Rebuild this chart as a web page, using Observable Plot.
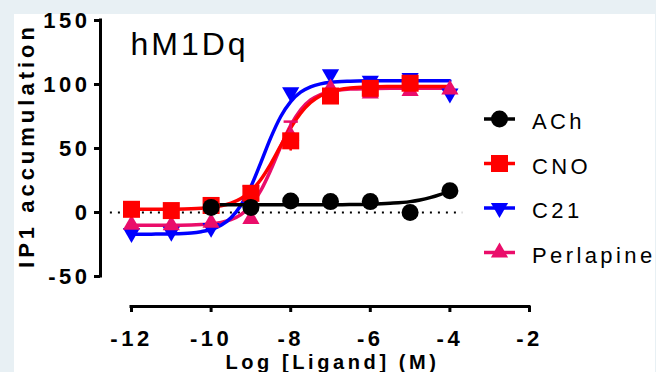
<!DOCTYPE html>
<html><head><meta charset="utf-8">
<script src="https://cdn.jsdelivr.net/npm/d3@7"></script>
<script src="https://cdn.jsdelivr.net/npm/@observablehq/plot@0.6"></script>
<style>
html,body{margin:0;padding:0;background:#e8f0f4;width:656px;height:372px;overflow:hidden;}
#panel{position:absolute;left:14px;top:14px;width:641px;height:358px;background:#fff;}
#chart{position:absolute;left:0;top:0;}
#chart svg{font-family:"Liberation Sans",Arial,sans-serif;}
</style></head><body><div id="panel"></div><div id="chart"></div>
<script>
// ---- data ----
const chartTitle = "hM1Dq";
const yTitle = "IP1 accumulation";
const xTitle = "Log [Ligand] (M)";
const ligands = ["ACh", "CNO", "C21", "Perlapine"];
const colors = ["#000000", "#ff0000", "#0000ff", "#ea0d6a"];

const logConc = [-12, -11, -10, -9, -8, -7, -6, -5, -4];
const achValues = [null, null, 4, 4, 9, 8.5, 8.5, 0, 17];
const cnoValues = [2.5, 1.5, 5.5, 15, 56, 91, 97, 101, null];
const c21Values = [-16, -15, -12, 17, 94, 108, 103, 105, 93];
const perlapineValues = [-9.5, -10, -8, -5, 60, 97, 93, 95, 96];
const perlapineErr = [0, 0, 0, 0, 11, 0, 0, 0, 0];
const cnoErr = [0, 0, 0, 0, 8, 0, 0, 0, 0];

// fitted curves
const fitX = [-12, -11.5, -11, -10.5, -10.25, -10, -9.75, -9.5, -9.25, -9, -8.75, -8.5, -8.25, -8, -7.75, -7.5, -7.25, -7, -6.5, -6, -5.5, -5, -4.5, -4];
const c21Fit = [-17, -16.9, -16.7, -16, -15, -13.3, -10, -4.1, 5.7, 20.3, 39, 58.5, 75, 86.7, 94, 98.2, 100.5, 101.7, 102.6, 102.9, 103, 103, 103, 103];
const cnoFit = [2.5, 2.5, 2.6, 2.9, 3.3, 4, 5.2, 7.3, 10.9, 16.8, 25.8, 38, 52.2, 66.2, 77.6, 85.9, 91.2, 94.3, 97.2, 98.1, 98.4, 98.5, 98.5, 98.5];
const perlapineFit = [-10, -10, -9.9, -9.7, -9.4, -8.9, -7.75, -5.6, -1.6, 5.6, 17.2, 33.3, 51.6, 68.1, 80.3, 87.9, 92.2, 94.6, 96.4, 96.8, 97, 97, 97, 97];
const achFitX = [-10, -9.5, -9, -8.5, -8, -7.5, -7, -6.5, -6, -5.5, -5, -4.75, -4.5, -4.25, -4];
const achFit = [6, 6, 6, 6, 6, 6, 6.1, 6.2, 6.5, 7.2, 8.5, 9.8, 11.6, 14, 17];

const xTicks = [-12, -10, -8, -6, -4, -2];
const xTickLabels = ["-12", "-10", "-8", "-6", "-4", "-2"];
const yTicks = [-50, 0, 50, 100, 150];
const yTickLabels = ["-50", "0", "50", "100", "150"];
const xDomain = [-12, -2];
const yDomain = [-50, 150];
const zeroLineFrom = -12.53, zeroLineTo = -3.68;

// ---- build tables ----
const pts = (vals, errs) => logConc.map((x, i) => ({x, y: vals[i], e: errs ? errs[i] : 0})).filter(d => d.y != null);
const fit = (xs, ys) => xs.map((x, i) => ({x, y: ys[i]}));
const achPts = pts(achValues), cnoPts = pts(cnoValues, cnoErr), c21Pts = pts(c21Values), perPts = pts(perlapineValues, perlapineErr);

const triangleDown = {
  draw(context, size) {
    const y = -Math.sqrt(size / (Math.sqrt(3) * 3));
    context.moveTo(0, -y * 2);
    context.lineTo(-Math.sqrt(3) * y, y);
    context.lineTo(Math.sqrt(3) * y, y);
    context.closePath();
  }
};
const capSymbol = {
  draw(context, size) {
    const w = Math.sqrt(size) / 2;
    context.moveTo(-w, 0);
    context.lineTo(w, 0);
  }
};
const symbols = ["circle", "square", triangleDown, "triangle"];
const radii = [8.5, 9.6, 6.4, 6.4];

const xLab = new Map(xTicks.map((t, i) => [t, xTickLabels[i]]));
const yLab = new Map(yTicks.map((t, i) => [t, yTickLabels[i]]));
const lw = 3.5;
const errOf = arr => arr.filter(d => d.e > 0);

const chart = Plot.plot({
  width: 656, height: 372,
  marginLeft: 131, marginRight: 127, marginTop: 20, marginBottom: 96,
  style: {background: "transparent", overflow: "visible"},
  x: {type: "linear", domain: xDomain},
  y: {type: "linear", domain: yDomain},
  marks: [
    Plot.ruleY([0], {x1: zeroLineFrom, x2: zeroLineTo, stroke: "#000", strokeWidth: 2, strokeDasharray: "2,6"}),
    Plot.ruleX([xDomain[0]], {y1: yDomain[0], y2: yDomain[1], dx: -31, stroke: "#000", strokeWidth: 3, strokeLinecap: "square"}),
    Plot.ruleY([yDomain[0]], {x1: xDomain[0], x2: xDomain[1], dy: 30, stroke: "#000", strokeWidth: 3, strokeLinecap: "square"}),
    Plot.axisY({ticks: yTicks, anchor: "left", tickSize: 6, tickPadding: 4, dx: -31, strokeWidth: 3, fontSize: 22, fontWeight: "bold", tickFormat: d => yLab.get(d), label: null}),
    Plot.axisX({ticks: xTicks, anchor: "bottom", tickSize: 6, tickPadding: 18, dy: 30, strokeWidth: 3, fontSize: 22, fontWeight: "bold", tickFormat: d => xLab.get(d), label: null}),
    // curves
    Plot.line(fit(fitX, perlapineFit), {x: "x", y: "y", stroke: colors[3], strokeWidth: lw, curve: "monotone-x"}),
    Plot.line(fit(fitX, cnoFit), {x: "x", y: "y", stroke: colors[1], strokeWidth: lw, curve: "monotone-x"}),
    Plot.line(fit(fitX, c21Fit), {x: "x", y: "y", stroke: colors[2], strokeWidth: lw, curve: "monotone-x"}),
    Plot.line(fit(achFitX, achFit), {x: "x", y: "y", stroke: colors[0], strokeWidth: lw, curve: "monotone-x"}),
    // error bars
    Plot.ruleX(errOf(perPts), {x: "x", y1: d => d.y - d.e, y2: d => d.y + d.e, stroke: colors[3], strokeWidth: 2.5}),
    Plot.dot(errOf(perPts), {x: "x", y: d => d.y + d.e, symbol: capSymbol, r: 8, stroke: colors[3], strokeWidth: 2.5, fill: "none"}),
    Plot.ruleX(errOf(cnoPts), {x: "x", y1: d => d.y - d.e, y2: d => d.y + d.e, stroke: colors[1], strokeWidth: 2.5}),
    // markers
    Plot.dot(c21Pts, {x: "x", y: "y", symbol: symbols[2], r: radii[2], fill: colors[2], stroke: "none"}),
    Plot.dot(perPts, {x: "x", y: "y", symbol: symbols[3], r: radii[3], fill: colors[3], stroke: "none"}),
    Plot.dot(cnoPts, {x: "x", y: "y", symbol: symbols[1], r: radii[1], fill: colors[1], stroke: "none"}),
    Plot.dot(achPts, {x: "x", y: "y", symbol: symbols[0], r: radii[0], fill: colors[0], stroke: "none"}),
    // titles
    Plot.text([chartTitle], {frameAnchor: "top-left", dx: -1, dy: 12, lineAnchor: "top", textAnchor: "start", fontSize: 32, fill: "#000"}),
    Plot.text([xTitle], {frameAnchor: "bottom", textAnchor: "middle", dx: 2, dy: 78, lineAnchor: "top", fontSize: 20, fontWeight: "bold", fill: "#000"}),
    Plot.text([yTitle], {frameAnchor: "left", textAnchor: "middle", dx: -105, dy: -3, rotate: -90, fontSize: 22, fontWeight: "bold", fill: "#000"})
  ]
});
document.getElementById("chart").appendChild(chart);

// letter spacing like the original typesetting
const svg = d3.select(chart);
svg.selectAll('g[aria-label="y-axis tick label"] text, g[aria-label="x-axis tick label"] text').style("letter-spacing", "3.5px");
svg.selectAll("text").each(function () {
  const t = this.textContent;
  if (t === yTitle) this.style.letterSpacing = "4px";
  if (t === xTitle) this.style.letterSpacing = "3.6px";
  if (t === chartTitle) this.style.letterSpacing = "3px";
});

// legend
const legendX0 = 484, legendX1 = 515, legendTextX = 532, legendTop = 119, legendStep = 44.5;
const lg = svg.append("g").attr("aria-label", "legend").attr("text-anchor", "start");
ligands.forEach((name, i) => {
  const cy = legendTop + i * legendStep;
  lg.append("line").attr("x1", legendX0).attr("x2", legendX1).attr("y1", cy).attr("y2", cy)
    .attr("stroke", colors[i]).attr("stroke-width", lw);
  const sym = typeof symbols[i] === "string" ? {circle: d3.symbolCircle, square: d3.symbolSquare, triangle: d3.symbolTriangle}[symbols[i]] : symbols[i];
  lg.append("path").attr("d", d3.symbol(sym, Math.PI * radii[i] * radii[i])())
    .attr("transform", `translate(${(legendX0 + legendX1) / 2},${cy})`).attr("fill", colors[i]);
  lg.append("text").attr("x", legendTextX).attr("y", cy + 10).attr("text-anchor", "start").text(name)
    .attr("font-size", 22).attr("fill", "#000").style("letter-spacing", "3.4px");
});
</script></body></html>
